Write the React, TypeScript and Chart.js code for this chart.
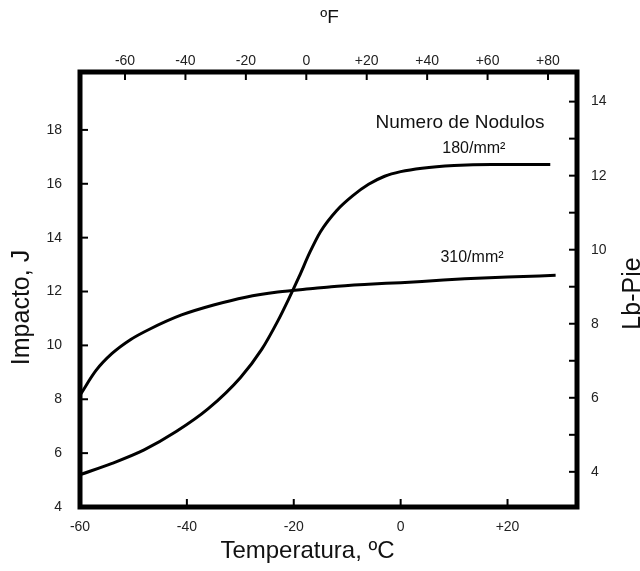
import React, { useEffect, useRef } from "react";
import { Chart, registerables } from "chart.js";

Chart.register(...registerables);

// Temperature (°C) and impact energy (J)
const TEMP_180 = [-60, -54, -48, -42, -36, -30, -26, -23, -21, -19, -17, -15, -12, -9, -6, -3, 0, 4, 10, 17, 28];
const IMPACT_180 = [5.2, 5.62, 6.12, 6.8, 7.65, 8.8, 9.85, 10.9, 11.7, 12.55, 13.45, 14.22, 15.0, 15.55, 15.98, 16.28, 16.45, 16.58, 16.68, 16.72, 16.72];

const TEMP_310 = [-60, -57, -54, -50.5, -47, -41, -35, -29, -23, -16, -13, -6, 0, 6, 12, 20, 29];
const IMPACT_310 = [8.15, 9.07, 9.7, 10.22, 10.6, 11.13, 11.5, 11.79, 11.98, 12.12, 12.18, 12.27, 12.33, 12.4, 12.47, 12.54, 12.6];

const SERIES_LABELS = ["180/mm²", "310/mm²"];
const LEGEND_TITLE = "Numero de Nodulos";

// Axis ticks
const BOTTOM_TICKS = [-60, -40, -20, 0, 20];
const BOTTOM_LABELS = ["-60", "-40", "-20", "0", "+20"];
const TOP_TICKS = [-60, -40, -20, 0, 20, 40, 60, 80];
const TOP_LABELS = ["-60", "-40", "-20", "0", "+20", "+40", "+60", "+80"];
const LEFT_TICKS = [4, 6, 8, 10, 12, 14, 16, 18];
const RIGHT_TICKS = [4, 5, 6, 7, 8, 9, 10, 11, 12, 13, 14];

const FONT = "'Liberation Sans', Arial, Helvetica, sans-serif";

const frameAndTicks = {
  id: "frameAndTicks",
  afterDraw(chart: any) {
    const { ctx, chartArea: a, scales } = chart;
    ctx.save();
    ctx.strokeStyle = "#000";
    ctx.lineWidth = 2;
    const len = 8;
    const line = (x1: number, y1: number, x2: number, y2: number) => {
      ctx.beginPath();
      ctx.moveTo(x1, y1);
      ctx.lineTo(x2, y2);
      ctx.stroke();
    };
    scales.x.ticks.forEach((t: any) => {
      const p = scales.x.getPixelForValue(t.value);
      line(p, a.bottom, p, a.bottom - len);
    });
    scales.xTop.ticks.forEach((t: any) => {
      const p = scales.xTop.getPixelForValue(t.value);
      line(p, a.top, p, a.top + len);
    });
    scales.y.ticks.forEach((t: any) => {
      const p = scales.y.getPixelForValue(t.value);
      line(a.left, p, a.left + len, p);
    });
    scales.yRight.ticks.forEach((t: any) => {
      const p = scales.yRight.getPixelForValue(t.value);
      line(a.right, p, a.right - len, p);
    });
    ctx.lineWidth = 5;
    ctx.strokeRect(a.left, a.top, a.right - a.left, a.bottom - a.top);

    // annotations in data coordinates
    ctx.fillStyle = "#111";
    ctx.textAlign = "center";
    ctx.textBaseline = "middle";
    const xs = scales.x, ys = scales.y;
    ctx.font = `19px ${FONT}`;
    ctx.fillText(LEGEND_TITLE, xs.getPixelForValue(11.1), ys.getPixelForValue(18.26));
    ctx.font = `16px ${FONT}`;
    ctx.fillText(SERIES_LABELS[0], xs.getPixelForValue(13.7), ys.getPixelForValue(17.3));
    ctx.fillText(SERIES_LABELS[1], xs.getPixelForValue(13.35), ys.getPixelForValue(13.26));

    // axis titles
    const W = chart.width, H = chart.height;
    ctx.font = `24px ${FONT}`;
    ctx.fillText("Temperatura, ºC", (a.left + a.right) / 2 - 21, H - 20);
    ctx.font = `19px ${FONT}`;
    ctx.fillText("ºF", (a.left + a.right) / 2 + 1, 18);
    ctx.font = `25px ${FONT}`;
    ctx.save();
    ctx.translate(22, (a.top + a.bottom) / 2 + 18);
    ctx.rotate(-Math.PI / 2);
    ctx.fillText("Impacto, J", 0, 0);
    ctx.restore();
    ctx.save();
    ctx.translate(W - 7, (a.top + a.bottom) / 2 + 4);
    ctx.rotate(-Math.PI / 2);
    ctx.fillText("Lb-Pie", 0, 0);
    ctx.restore();
    ctx.restore();
  },
};

const whiteBg = {
  id: "whiteBg",
  beforeDraw(chart: any) {
    const { ctx } = chart;
    ctx.save();
    ctx.fillStyle = "#fff";
    ctx.fillRect(0, 0, chart.width, chart.height);
    ctx.restore();
  },
};

export default function App() {
  const ref = useRef<HTMLCanvasElement>(null);
  useEffect(() => {
    if (!ref.current) return;
    const tickFont = { family: FONT, size: 14 };
    const common = {
      grid: { display: false, drawTicks: false },
      border: { display: false },
    };
    const chart = new Chart(ref.current, {
      type: "line",
      data: {
        datasets: [
          {
            label: SERIES_LABELS[0],
            data: TEMP_180.map((x, i) => ({ x, y: IMPACT_180[i] })),
            borderColor: "#000",
            borderWidth: 3,
            pointRadius: 0,
            cubicInterpolationMode: "monotone",
            xAxisID: "x",
            yAxisID: "y",
          },
          {
            label: SERIES_LABELS[1],
            data: TEMP_310.map((x, i) => ({ x, y: IMPACT_310[i] })),
            borderColor: "#000",
            borderWidth: 3,
            pointRadius: 0,
            cubicInterpolationMode: "monotone",
            xAxisID: "x",
            yAxisID: "y",
          },
        ],
      },
      options: {
        responsive: false,
        animation: false,
        devicePixelRatio: 1,
        layout: { padding: 0 },
        plugins: { legend: { display: false }, tooltip: { enabled: false } },
        scales: {
          x: {
            type: "linear",
            position: "bottom",
            min: -60,
            max: 33,
            ...common,
            afterBuildTicks: (s: any) => { s.ticks = BOTTOM_TICKS.map((v) => ({ value: v })); },
            afterFit: (s: any) => { s.height = 64; },
            ticks: {
              color: "#222",
              font: tickFont,
              padding: 12,
              maxRotation: 0,
              callback: (v: any) => BOTTOM_LABELS[BOTTOM_TICKS.indexOf(Number(v))] ?? "",
            },
          },
          xTop: {
            type: "linear",
            position: "top",
            min: -74.9,
            max: 89.6,
            ...common,
            afterBuildTicks: (s: any) => { s.ticks = TOP_TICKS.map((v) => ({ value: v })); },
            afterFit: (s: any) => { s.height = 72; },
            ticks: {
              color: "#222",
              font: tickFont,
              padding: 2,
              maxRotation: 0,
              callback: (v: any) => TOP_LABELS[TOP_TICKS.indexOf(Number(v))] ?? "",
            },
          },
          y: {
            type: "linear",
            position: "left",
            min: 4,
            max: 20.15,
            ...common,
            afterBuildTicks: (s: any) => { s.ticks = LEFT_TICKS.map((v) => ({ value: v })); },
            afterFit: (s: any) => { s.width = 80; },
            ticks: { color: "#222", font: tickFont, padding: 18 },
          },
          yRight: {
            type: "linear",
            position: "right",
            min: 3.05,
            max: 14.8,
            ...common,
            afterBuildTicks: (s: any) => { s.ticks = RIGHT_TICKS.map((v) => ({ value: v })); },
            afterFit: (s: any) => { s.width = 63; },
            ticks: {
              color: "#222",
              font: tickFont,
              padding: 14,
              callback: (v: any) => (Number(v) % 2 === 0 ? String(v) : ""),
            },
          },
        },
      },
      plugins: [whiteBg, frameAndTicks],
    } as any);
    return () => chart.destroy();
  }, []);
  return (
    <div style={{ position: "absolute", left: 0, top: 0, width: 640, height: 571, background: "#fff" }}>
      <canvas ref={ref} width={640} height={571} />
    </div>
  );
}
